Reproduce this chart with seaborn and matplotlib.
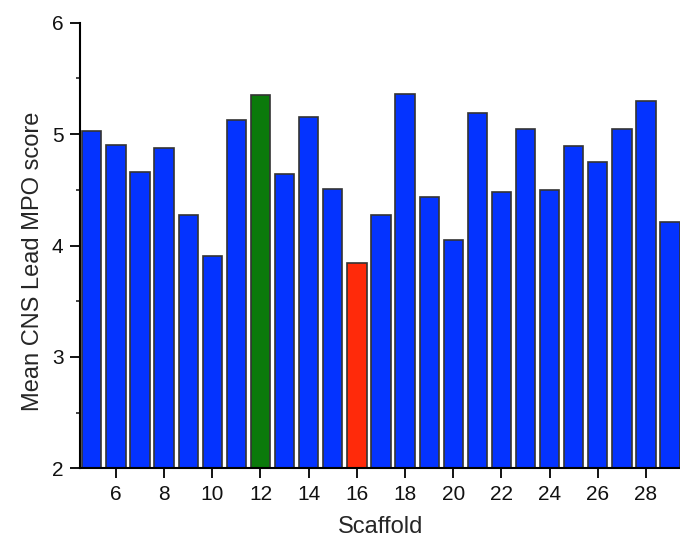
import pandas as pd
import matplotlib.pyplot as plt
import seaborn as sns

# Mean CNS Lead MPO score per scaffold
scaffolds = list(range(5, 30))
scores = [5.03, 4.90, 4.66, 4.88, 4.27, 3.91, 5.13, 5.35, 4.64, 5.15, 4.51,
          3.84, 4.27, 5.36, 4.44, 4.05, 5.19, 4.48, 5.05, 4.50, 4.89, 4.75,
          5.05, 5.30, 4.21]
best_scaffold = 12
worst_scaffold = 16

groups = ["best" if s == best_scaffold else "worst" if s == worst_scaffold else "other"
          for s in scaffolds]
df = pd.DataFrame({"Scaffold": scaffolds, "Score": scores, "Group": groups})
palette = {"other": "#0433FF", "best": "#0B7A0B", "worst": "#FF2A0A"}

sns.set_style("ticks")
plt.rcParams["font.family"] = ["Liberation Sans", "DejaVu Sans"]

fig = plt.figure(figsize=(6.8, 5.42), dpi=100)
ax = fig.add_axes([0.118, 0.136, 0.882, 0.822])

sns.barplot(data=df, x="Scaffold", y="Score", hue="Group", palette=palette,
            native_scale=True, dodge=False, width=0.8, legend=False,
            saturation=1, edgecolor="#333333", linewidth=1.2, ax=ax)

ax.set_xlim(4.52, 29.41)
ax.set_ylim(2, 6)
ax.set_xticks(range(6, 29, 2))
ax.set_yticks([2, 3, 4, 5, 6])
ax.set_yticks([2.5, 3.5, 4.5, 5.5], minor=True)
ax.tick_params(axis="both", which="major", labelsize=15, length=7, width=1.3,
               direction="out", colors="black", labelcolor="#111111")
ax.tick_params(axis="x", which="major", pad=5)
ax.tick_params(axis="y", which="major", pad=5)
ax.tick_params(axis="y", which="minor", length=3, width=1.2)
ax.set_xlabel("Scaffold", fontsize=17, labelpad=9)
ax.set_ylabel("Mean CNS Lead MPO score", fontsize=17, labelpad=6, y=0.465)

for side in ["top", "right"]:
    ax.spines[side].set_visible(False)
for side in ["left", "bottom"]:
    ax.spines[side].set_linewidth(1.5)
    ax.spines[side].set_color("black")

fig.savefig("out.png", dpi=100)
plt.close(fig)
